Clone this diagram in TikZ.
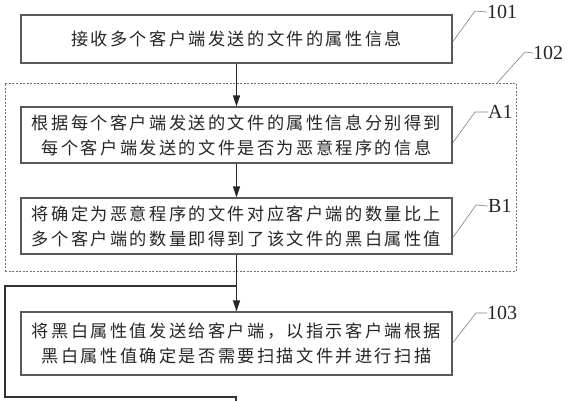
\documentclass[tikz,border=0pt]{standalone}
\usepackage{fontspec}
\usetikzlibrary{arrows.meta}
\newfontfamily\cjk{Noto Sans CJK SC}[LetterSpace=14]
\newfontfamily\lblfont{Liberation Serif}
\tikzset{
  stepbox/.style={draw=black!65, line width=1.2pt, fill=white, inner sep=0pt,
    minimum width=431pt, align=center, text=black!85,
    font=\cjk\fontsize{17.2}{25}\selectfont},
  groupbox/.style={draw=black!55, line width=0.8pt, dash pattern=on 2pt off 1.5pt, inner sep=0pt},
  flow/.style={line width=1.4pt, black!85, -{Triangle[width=7pt,length=11pt]}},
  loopline/.style={line width=1.4pt, black!80},
  leader/.style={draw=black!50, line width=0.6pt},
  steplabel/.style={anchor=west, inner sep=0pt, text=black!85, font=\lblfont\fontsize{20}{20}\selectfont}
}
\begin{document}
\begin{tikzpicture}[x=1pt, y=-1pt]
\useasboundingbox (0,0) rectangle (569,400);
% group box 102
\node[groupbox, minimum width=511pt, minimum height=188pt] (g102) at (260.5,177) {};
% step boxes
\node[stepbox, minimum height=48pt] (s101) at (236.5,39) {接收多个客户端发送的文件的属性信息};
\node[stepbox, minimum height=56pt] (sA1) at (236.5,135) {根据每个客户端发送的文件的属性信息分别得到\\每个客户端发送的文件是否为恶意程序的信息};
\node[stepbox, minimum height=56pt] (sB1) at (236.5,226) {将确定为恶意程序的文件对应客户端的数量比上\\多个客户端的数量即得到了该文件的黑白属性值};
\node[stepbox, minimum height=63pt] (s103) at (236.5,343.5) {将黑白属性值发送给客户端，以指示客户端根据\\黑白属性值确定是否需要扫描文件并进行扫描};
% arrows
\draw[flow] (s101.south) -- (sA1.north);
\draw[flow] (sA1.south) -- (sB1.north);
\draw[flow] (sB1.south) -- (s103.north);
% loop line
\coordinate (jn) at (236.5,286);
\coordinate (lt) at (5,286);
\coordinate (lb) at (5,397);
\coordinate (rb) at (236,397);
\coordinate (rend) at (236,401);
\draw[loopline] (rend) -- (rb) -- (lb) -- (lt) -- (jn);
% labels
\node[steplabel] (l101) at (487,12) {101};
\node[steplabel] (l102) at (533,53) {102};
\node[steplabel] (lA1) at (488,112) {A1};
\node[steplabel] (lB1) at (488,206) {B1};
\node[steplabel] (l103) at (487,313) {103};
% leaders
\coordinate (k101) at (475,11);
\coordinate (k102) at (525,52);
\coordinate (kA1) at (475,112);
\coordinate (kB1) at (476,205);
\coordinate (k103) at (476,313);
\draw[leader] (s101.east |- 0,42) -- (k101) -- (l101.west);
\draw[leader] (497,83) -- (k102) -- (l102.west);
\draw[leader] (sA1.east |- 0,143) -- (kA1) -- (lA1.west);
\draw[leader] (sB1.east |- 0,238) -- (kB1) -- (lB1.west);
\draw[leader] (s103.east |- 0,343) -- (k103) -- (l103.west);
\end{tikzpicture}
\end{document}
